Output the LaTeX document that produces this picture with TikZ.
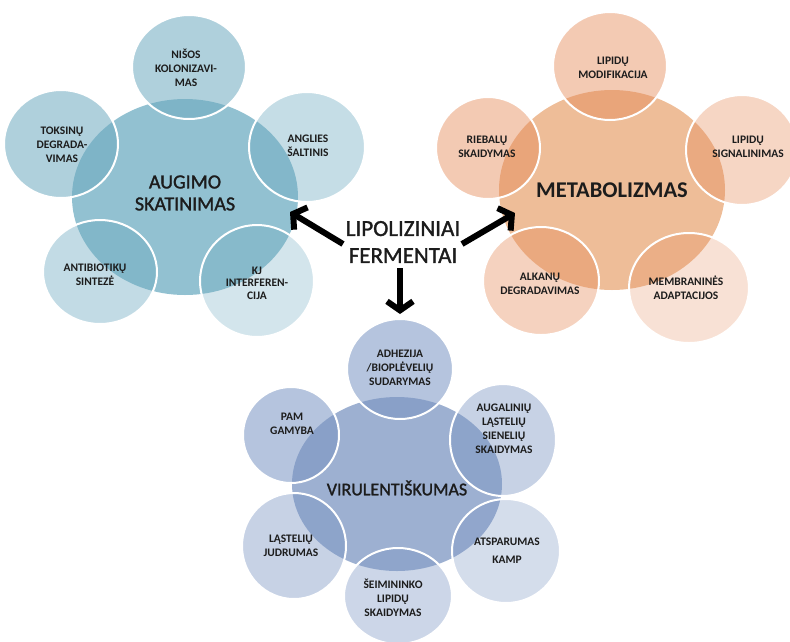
\documentclass[tikz,border=0pt]{standalone}
\usepackage{fontspec}
\setmainfont{Carlito}
\newfontfamily\semibold[FakeBold=1.4]{Carlito}
\usetikzlibrary{shapes.geometric,arrows.meta}
\definecolor{bbig}{RGB}{146,193,209}
\definecolor{bsat}{RGB}{110,170,192}
\definecolor{obig}{RGB}{238,189,152}
\definecolor{osat}{RGB}{229,137,87}
\definecolor{pbig}{RGB}{157,176,209}
\definecolor{psat}{RGB}{121,148,194}
\definecolor{txt}{RGB}{28,28,28}
\tikzset{
  bigc/.style={ellipse, inner sep=0pt},
  sat/.style={ellipse, draw=white, line width=2pt, inner sep=0pt, text opacity=1},
  lab/.style={text=txt, align=center, inner sep=0pt, font=\bfseries\fontsize{11.5}{14}\selectfont},
  biglab/.style={text=txt, align=center, inner sep=0pt},
  arr/.style={line width=6pt, draw=black, -{Straight Barb[length=9pt,width=26pt]}},
}
\begin{document}
\begin{tikzpicture}[x=1pt,y=-1pt]
\useasboundingbox (0,0) rectangle (790,641);
\clip (0,0) rectangle (790,641);
% ---------------- blue group
\node[bigc, fill=bbig, minimum width=226pt, minimum height=196pt] (aug) at (185,197) {};
\node[sat, fill=bsat, fill opacity=0.55, minimum width=114pt, minimum height=104pt] (nis) at (189,67) {};
\node[sat, fill=bsat, fill opacity=0.40, minimum width=116pt, minimum height=110pt] (ang) at (307,147) {};
\node[sat, fill=bsat, fill opacity=0.55, minimum width=114pt, minimum height=108pt] (tok) at (61,144) {};
\node[sat, fill=bsat, fill opacity=0.42, minimum width=114pt, minimum height=104pt] (ant) at (100,272) {};
\node[sat, fill=bsat, fill opacity=0.30, minimum width=114pt, minimum height=112pt] (kj) at (257,281) {};
\node[lab] (nisl) at (186,68) {NIŠOS\\KOLONIZAVI-\\MAS};
\node[lab] (angl) at (308,146) {ANGLIES\\ŠALTINIS};
\node[lab] (tokl) at (62,145) {TOKSINŲ\\DEGRADA-\\VIMAS};
\node[lab] (antl) at (95,275) {ANTIBIOTIKŲ\\SINTEZĖ};
\node[lab, font=\bfseries\fontsize{11.5}{12.5}\selectfont] (kjl) at (257,283) {KJ\\INTERFEREN-\\CIJA};
\node[biglab, font=\semibold\fontsize{20}{22}\selectfont] (augl) at (185,193) {AUGIMO\\SKATINIMAS};
% ---------------- orange group
\node[bigc, fill=obig, minimum width=226pt, minimum height=200pt] (met) at (612,190) {};
\node[sat, fill=osat, fill opacity=0.45, minimum width=114pt, minimum height=108pt] (lmod) at (610,66) {};
\node[sat, fill=osat, fill opacity=0.45, minimum width=104pt, minimum height=102pt] (rieb) at (488,148) {};
\node[sat, fill=osat, fill opacity=0.35, minimum width=112pt, minimum height=110pt] (lsig) at (742,150) {};
\node[sat, fill=osat, fill opacity=0.38, minimum width=116pt, minimum height=108pt] (alk) at (541,281) {};
\node[sat, fill=osat, fill opacity=0.25, minimum width=120pt, minimum height=110pt] (mem) at (689,288) {};
\node[lab] (lmodl) at (613,68) {LIPIDŲ\\MODIFIKACIJA};
\node[lab] (riebl) at (487,147) {RIEBALŲ\\SKAIDYMAS};
\node[lab] (lsigl) at (748,147) {LIPIDŲ\\SIGNALINIMAS};
\node[lab] (alkl) at (540,284) {ALKANŲ\\DEGRADAVIMAS};
\node[lab] (meml) at (686,288) {MEMBRANINĖS\\ADAPTACIJOS};
\node[biglab, font=\bfseries\fontsize{22.5}{26}\selectfont] (metl) at (612,190) {METABOLIZMAS};
% ---------------- purple group
\node[bigc, fill=pbig, minimum width=210pt, minimum height=174pt] (vir) at (397,484) {};
\node[sat, fill=psat, fill opacity=0.55, minimum width=106pt, minimum height=100pt] (adh) at (400,369) {};
\node[sat, fill=psat, fill opacity=0.42, minimum width=106pt, minimum height=112pt] (augl2) at (503,440) {};
\node[sat, fill=psat, fill opacity=0.55, minimum width=96pt, minimum height=96pt] (pam) at (291,435) {};
\node[sat, fill=psat, fill opacity=0.42, minimum width=104pt, minimum height=106pt] (las) at (294,546) {};
\node[sat, fill=psat, fill opacity=0.32, minimum width=108pt, minimum height=104pt] (ats) at (506,551) {};
\node[sat, fill=psat, fill opacity=0.38, minimum width=108pt, minimum height=96pt] (sei) at (398,596) {};
\node[lab] (adhl) at (400,368) {ADHEZIJA\\/BIOPLĖVELIŲ\\SUDARYMAS};
\node[lab] (augl2l) at (504,429) {AUGALINIŲ\\LĄSTELIŲ\\SIENELIŲ\\SKAIDYMAS};
\node[lab] (paml) at (292,424) {PAM\\GAMYBA};
\node[lab] (lasl) at (291,546) {LĄSTELIŲ\\JUDRUMAS};
\node[lab, font=\bfseries\fontsize{11.5}{18}\selectfont] (atsl) at (507,551) {ATSPARUMAS\\KAMP};
\node[lab] (seil) at (393,598) {ŠEIMININKO\\LIPIDŲ\\SKAIDYMAS};
\node[biglab, font=\semibold\fontsize{18}{20}\selectfont] (virl) at (397,488) {VIRULENTIŠKUMAS};
% ---------------- centre
\node[biglab, font=\semibold\fontsize{23}{27}\selectfont] (lip) at (403,242) {LIPOLIZINIAI\\FERMENTAI};
\coordinate (a1s) at (343,244);
\coordinate (a1e) at (290,212);
\coordinate (a2s) at (462,244);
\coordinate (a2e) at (515,213);
\coordinate (a3s) at (400,268);
\coordinate (a3e) at (400,314);
\draw[arr] (a1s) -- (a1e);
\draw[arr] (a2s) -- (a2e);
\draw[arr] (a3s) -- (a3e);
\end{tikzpicture}
\end{document}
